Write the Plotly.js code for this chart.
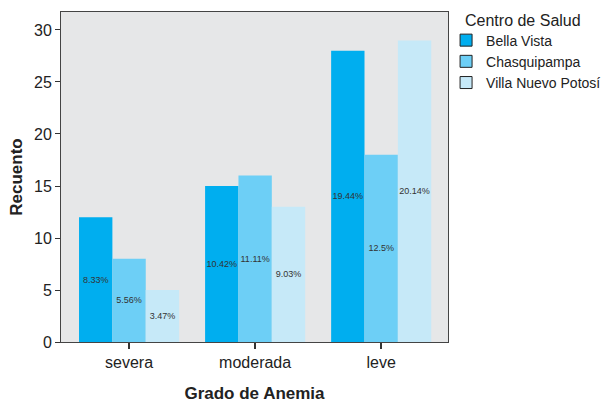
<!DOCTYPE html>
<html>
<head>
<meta charset="utf-8">
<script src="https://cdn.plot.ly/plotly-3.0.1.min.js"></script>
<style>html,body{margin:0;padding:0;background:#fff;}#chart{width:605px;height:403px;}</style>
</head>
<body>
<div id="chart"></div>
<script>
const categories = ["severa", "moderada", "leve"];
const seriesNames = ["Bella Vista", "Chasquipampa", "Villa Nuevo Potosí"];
const bellaVista = [12, 15, 28];
const chasquipampa = [8, 16, 18];
const villaNuevoPotosi = [5, 13, 29];
const pctBellaVista = ["8.33%", "10.42%", "19.44%"];
const pctChasquipampa = ["5.56%", "11.11%", "12.5%"];
const pctVilla = ["3.47%", "9.03%", "20.14%"];
const yTicks = [0, 5, 10, 15, 20, 25, 30];
const legendTitle = "Centro de Salud";

const colors = ["#00AEEF", "#6DCFF6", "#C6E9F8"];
const values = [bellaVista, chasquipampa, villaNuevoPotosi];
const pcts = [pctBellaVista, pctChasquipampa, pctVilla];

const traces = [];
for (let i = 0; i < 3; i++) {
  traces.push({
    type: "bar", x: categories, y: values[i], name: seriesNames[i],
    text: pcts[i], textposition: "inside", insidetextanchor: "middle",
    textangle: 0, constraintext: "none",
    textfont: {family: "Liberation Sans, Arial, sans-serif", size: 9, color: "#333"},
    marker: {color: colors[i], line: {width: 0}},
    showlegend: false, hoverinfo: "none"
  });
}
// legend entries (outlined swatches)
for (let i = 0; i < 3; i++) {
  traces.push({
    type: "bar", x: categories, y: [null, null, null], name: seriesNames[i],
    xaxis: "x2", yaxis: "y2",
    marker: {color: colors[i], line: {width: 1, color: "#222"}},
    showlegend: true, hoverinfo: "none"
  });
}

const layout = {
  width: 605, height: 403,
  margin: {l: 61, r: 157, t: 12, b: 61, autoexpand: false},
  paper_bgcolor: "#ffffff",
  plot_bgcolor: "#E6E7E8",
  barmode: "group", bargap: 0.206, bargroupgap: 0,
  font: {family: "Liberation Sans, Arial, sans-serif", color: "#222"},
  xaxis: {
    range: [-0.54, 2.53], showgrid: false, zeroline: false,
    showline: true, linecolor: "#444", linewidth: 1, mirror: true,
    ticks: "outside", ticklen: 6, tickcolor: "#333", tickwidth: 1.5,
    tickfont: {size: 16, color: "#222"},
    title: {text: "Grado de Anemia", font: {size: 17, color: "#222", weight: "bold"}, standoff: 17}
  },
  yaxis: {
    range: [0, 31.73], tickvals: yTicks, showgrid: false, zeroline: false,
    showline: true, linecolor: "#444", linewidth: 1, mirror: true,
    ticks: "outside", ticklen: 5, tickcolor: "#333",
    tickfont: {size: 16, color: "#222"},
    title: {text: "Recuento", font: {size: 17, color: "#222", weight: "bold"}, standoff: 7}
  },
  xaxis2: {overlaying: "x", visible: false, range: [-0.5, 2.5]},
  yaxis2: {overlaying: "y", visible: false, range: [0, 1]},
  legend: {
    x: 0.995, xanchor: "left", y: 0.962, yanchor: "top",
    bgcolor: "rgba(0,0,0,0)",
    font: {size: 14, color: "#222"},
    tracegroupgap: 0, itemwidth: 30
  },
  annotations: [{
    text: legendTitle, xref: "paper", yref: "paper",
    x: (463 - 61) / 387, xanchor: "left", y: (342 - 21) / 330, yanchor: "middle",
    showarrow: false, font: {size: 16, color: "#222"}
  }]
};

Plotly.newPlot("chart", traces, layout, {displayModeBar: false, staticPlot: true});
</script>
</body>
</html>
